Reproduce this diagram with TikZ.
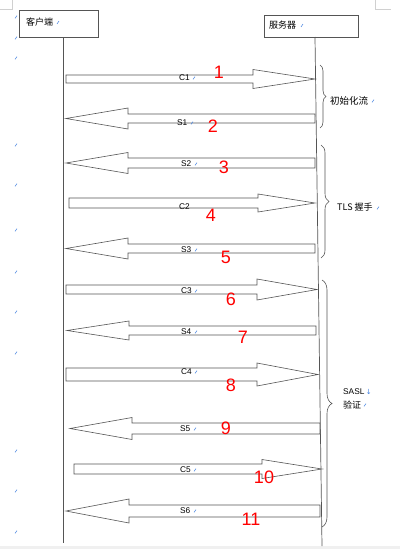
\documentclass[tikz,border=0pt]{standalone}
\usepackage{fontspec}
\setmainfont{Liberation Sans}
\newfontfamily\cjk{Noto Sans CJK SC}
\newfontfamily\symfont{DejaVu Sans}
\usetikzlibrary{decorations.pathreplacing}
\definecolor{ln}{HTML}{555555}
\definecolor{mk}{HTML}{3F7FE0}
\definecolor{cornergray}{HTML}{D0D0D0}
\newcommand\parmark[2]{\draw[mk, line width=0.5pt] (#1-1,#2+1.4) -- (#1+1,#2-1.4);}
% right block arrow: tail x, head base x, tip x, centre y, shaft half, head half
\newcommand\RBlk[6]{\draw[blk] (#1,#4-#5) -- (#2,#4-#5) -- (#2,#4-#6) -- (#3,#4) -- (#2,#4+#6) -- (#2,#4+#5) -- (#1,#4+#5) -- cycle;}
% left block arrow: tip x, head base x, tail x, centre y, shaft half, head half
\newcommand\LBlk[6]{\draw[blk] (#3,#4-#5) -- (#2,#4-#5) -- (#2,#4-#6) -- (#1,#4) -- (#2,#4+#6) -- (#2,#4+#5) -- (#3,#4+#5) -- cycle;}
\begin{document}
\begin{tikzpicture}[x=1pt,y=-1pt,
  blk/.style={draw=ln, line width=0.6pt, fill=white, line join=miter},
  lab/.style={font=\fontsize{8.3}{8.3}\selectfont, inner sep=0pt, anchor=west},
  num/.style={font=\fontsize{18}{18}\selectfont, text=red, inner sep=0pt},
  cjktext/.style={font=\cjk\fontsize{9}{9}\selectfont, inner sep=0pt, anchor=west},
  lifeline/.style={draw=ln, line width=0.7pt},
  bracestyle/.style={draw=ln, line width=0.6pt, decorate, decoration={brace, amplitude=#1}}
]
\fill[white] (0,0) rectangle (400,549);
\useasboundingbox (0,0) rectangle (400,549);
\fill[gray!12] (0,545.5) rectangle (400,549);
% page corner marks
\draw[cornergray, line width=0.6pt] (0,9) -- (12,9) -- (12,0);
\draw[cornergray, line width=0.6pt] (375,0) -- (375,9) -- (391,9);

% participant boxes
\draw[ln, line width=0.7pt] (19,10) rectangle (98,37);
\node[cjktext] (client) at (26,22.5) {客户端};
\draw[ln, line width=0.7pt] (264,15) rectangle (358,37);
\node[cjktext] (server) at (269,25.5) {服务器};
\parmark{58}{22.5}
\parmark{302}{25.5}

% lifelines
\coordinate (ctop) at (63,37);
\coordinate (cbot) at (63,543);
\coordinate (stop) at (315,37);
\coordinate (sbot) at (322,546);
\draw[lifeline] (ctop) -- (cbot);
\draw[lifeline] (stop) -- (sbot);

% block arrows
\RBlk{66}{253}{315}{79}{4}{9.5}
\LBlk{66}{128}{315}{118.5}{4.5}{10.5}
\LBlk{66}{128}{315}{163}{5}{10.5}
\RBlk{69}{258}{315}{203}{5}{9}
\LBlk{66}{128}{315}{248.5}{4.5}{10.5}
\RBlk{66}{257}{317}{289.5}{4.5}{10.5}
\LBlk{67}{129}{316}{330.5}{4.5}{9.5}
\RBlk{66}{257}{318}{374.5}{6.5}{11.5}
\LBlk{70}{132}{320}{428.5}{5.5}{11}
\RBlk{74}{262}{322}{469}{5}{9.5}
\LBlk{66}{129}{320}{511}{6}{12}

% message labels
\node[lab] (c1) at (179,78) {C1};
\node[lab] (s1) at (177,123) {S1};
\node[lab] (s2) at (181,164) {S2};
\node[lab] (c2) at (179,207) {C2};
\node[lab] (s3) at (181,250) {S3};
\node[lab] (c3) at (181,291) {C3};
\node[lab] (s4) at (181,332) {S4};
\node[lab] (c4) at (181,372) {C4};
\node[lab] (s5) at (180,429) {S5};
\node[lab] (c5) at (180,470) {C5};
\node[lab] (s6) at (180,511) {S6};
\parmark{194}{78}
\parmark{192}{123}
\parmark{196}{164}
\parmark{196}{250}
\parmark{196}{291}
\parmark{196}{332}
\parmark{196}{372}
\parmark{195}{429}
\parmark{195}{470}
\parmark{195}{511}

% red step numbers
\node[num] (n1) at (219,72) {1};
\node[num] (n2) at (213,126) {2};
\node[num] (n3) at (224,167) {3};
\node[num] (n4) at (211,215) {4};
\node[num] (n5) at (226,257) {5};
\node[num] (n6) at (231,299) {6};
\node[num] (n7) at (243,337) {7};
\node[num] (n8) at (231,385) {8};
\node[num] (n9) at (226,428) {9};
\node[num] (n10) at (264,477) {10};
\node[num] (n11) at (251,519) {11};

% braces
\coordinate (b1t) at (320,65);
\coordinate (b1b) at (320,128);
\coordinate (b2t) at (321,145);
\coordinate (b2b) at (321,258);
\coordinate (b3t) at (322,280);
\coordinate (b3b) at (322,527);
\draw[bracestyle=6pt] (b1t) -- (b1b);
\draw[bracestyle=8pt] (b2t) -- (b2b);
\draw[bracestyle=10pt] (b3t) -- (b3b);

\node[cjktext, font=\cjk\fontsize{9.5}{9.5}\selectfont] (init) at (330,101) {初始化流};
\parmark{373}{101}
\node[cjktext] (tls) at (337,207.5) {TLS 握手};
\parmark{378}{208}
\node[cjktext, font=\fontsize{8.3}{8.3}\selectfont] (sasl) at (343,392) {SASL\,{\color{mk}\symfont\fontsize{7}{7}\selectfont ↓}};
\node[cjktext] (auth) at (343,405) {验证};
\parmark{365}{405}

% left margin paragraph marks
\foreach \yy in {17,38,58,145,185,230,272,312,353,451,491,532} {\parmark{16}{\yy}}
\end{tikzpicture}
\end{document}
